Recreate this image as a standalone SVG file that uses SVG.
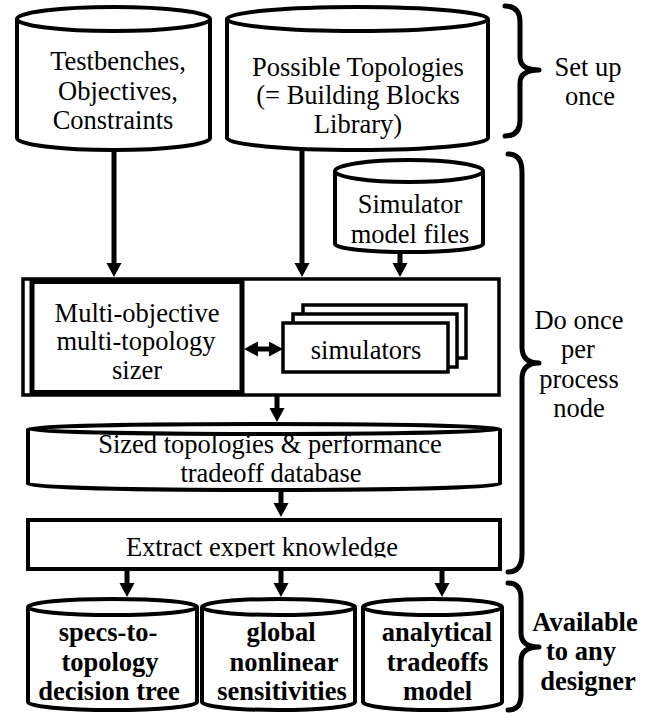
<svg xmlns="http://www.w3.org/2000/svg" width="654" height="713" viewBox="0 0 654 713">
<style>
.s{fill:#fff;stroke:#000;stroke-width:4}
.t{font-family:"Liberation Serif","Times New Roman",serif;font-size:26.5px;text-anchor:middle;fill:#000}
.b{font-weight:bold}
.a{stroke:#000;stroke-width:5;fill:none;marker-end:url(#ah)}
.br{stroke:#000;stroke-width:5;fill:none;stroke-linecap:round;stroke-linejoin:round}
</style>
<defs>
<marker id="ah" markerWidth="16" markerHeight="16" refX="4" refY="7.5" orient="auto-start-reverse" markerUnits="userSpaceOnUse"><path d="M0,0 L14,7.5 L0,15 z" fill="#000"/></marker>
<clipPath id="cx"><rect x="28" y="520" width="472" height="37.5"/></clipPath>
</defs>
<rect width="654" height="713" fill="#fff"/>

<g id="testbenches">
<path class="s" d="M17,19 L17,138 A96.5,12 0 0 0 210,138 L210,19"/>
<ellipse class="s" cx="113.5" cy="19" rx="96.5" ry="12"/>
<text class="t" x="118" y="70">Testbenches,</text>
<text class="t" x="118" y="99.5">Objectives,</text>
<text class="t" x="113" y="129">Constraints</text>
</g>

<g id="topologies">
<path class="s" d="M227,19 L227,138 A130.5,12 0 0 0 488,138 L488,19"/>
<ellipse class="s" cx="357.5" cy="19" rx="130.5" ry="12"/>
<text class="t" x="358" y="75.5">Possible Topologies</text>
<text class="t" x="358" y="104">(= Building Blocks</text>
<text class="t" x="358" y="132.5">Library)</text>
</g>

<g id="simmodel">
<path class="s" d="M335,171 L335,244 A74,8 0 0 0 483,244 L483,171"/>
<ellipse class="s" cx="409" cy="171" rx="74" ry="11"/>
<text class="t" x="410" y="213">Simulator</text>
<text class="t" x="410" y="242.5">model files</text>
</g>

<g id="sizerframe">
<rect x="23" y="279" width="476" height="116" fill="#fff" stroke="#000" stroke-width="3.5"/>
</g>

<g id="sizer">
<rect x="32" y="281.5" width="210" height="111" fill="#fff" stroke="#000" stroke-width="5"/>
<text class="t" x="137" y="321.5">Multi-objective</text>
<text class="t" x="136" y="350">multi-topology</text>
<text class="t" x="137" y="378.5">sizer</text>
</g>

<g id="simulators">
<rect x="303" y="305" width="163" height="53" fill="#fff" stroke="#000" stroke-width="3.5"/>
<rect x="293" y="314" width="164" height="53" fill="#fff" stroke="#000" stroke-width="3.5"/>
<rect x="283" y="323" width="165" height="49" fill="#fff" stroke="#000" stroke-width="3.5"/>
<text class="t" x="366" y="359">simulators</text>
</g>

<g id="database">
<path class="s" d="M28,429 L28,484 A236,6 0 0 0 500,484 L500,429"/>
<ellipse class="s" cx="264" cy="429" rx="236" ry="5"/>
<text class="t" x="270" y="453">Sized topologies &amp; performance</text>
<text class="t" x="271" y="482">tradeoff database</text>
</g>

<g id="extract">
<rect class="s" x="28" y="520" width="472" height="49"/>
<text class="t" x="262" y="556" clip-path="url(#cx)">Extract expert knowledge</text>
</g>

<g id="tree">
<path class="s" d="M28,607 L28,702 A84.5,8 0 0 0 197,702 L197,607"/>
<ellipse class="s" cx="112.5" cy="607" rx="84.5" ry="8"/>
<text class="t b" x="108" y="641">specs-to-</text>
<text class="t b" x="110" y="670.5">topology</text>
<text class="t b" x="109" y="700">decision tree</text>
</g>

<g id="sens">
<path class="s" d="M202,607 L202,702 A76.5,8 0 0 0 355,702 L355,607"/>
<ellipse class="s" cx="278.5" cy="607" rx="76.5" ry="8"/>
<text class="t b" x="281" y="641">global</text>
<text class="t b" x="284" y="670.5">nonlinear</text>
<text class="t b" x="282" y="700">sensitivities</text>
</g>

<g id="tradeoffs">
<path class="s" d="M363,607 L363,702 A69.5,8 0 0 0 502,702 L502,607"/>
<ellipse class="s" cx="432.5" cy="607" rx="69.5" ry="8"/>
<text class="t b" x="437" y="641">analytical</text>
<text class="t b" x="437.5" y="670.5">tradeoffs</text>
<text class="t b" x="437.5" y="700">model</text>
</g>

<g id="connectors">
<line class="a" x1="114" y1="150" x2="114" y2="267"/>
<line class="a" x1="302" y1="150" x2="302" y2="267"/>
<line class="a" x1="400" y1="252" x2="400" y2="267"/>
<line class="a" x1="254" y1="349" x2="273" y2="349" style="marker-start:url(#ah)"/>
<line class="a" x1="277" y1="395" x2="277" y2="412"/>
<line class="a" x1="281" y1="490" x2="281" y2="507"/>
<line class="a" x1="127" y1="569" x2="127" y2="587"/>
<line class="a" x1="281" y1="569" x2="281" y2="587"/>
<line class="a" x1="442" y1="569" x2="442" y2="587"/>
</g>

<g id="brace-setup">
<path class="br" d="M505,6 Q520,6 520,22 L520,57 Q520,70 539,70 Q520,70 520,83 L520,120 Q520,136 505,136"/>
<text class="t" x="588" y="76">Set up</text>
<text class="t" x="590" y="105">once</text>
</g>

<g id="brace-process">
<path class="br" d="M508,154 Q522,154 522,172 L522,347 Q522,363 539,363 Q522,363 522,379 L522,554 Q522,572 508,572"/>
<text class="t" x="579" y="329">Do once</text>
<text class="t" x="578" y="358">per</text>
<text class="t" x="579" y="387.5">process</text>
<text class="t" x="579" y="417">node</text>
</g>

<g id="brace-designer">
<path class="br" d="M508,583 Q521,583 521,598 L521,633 Q521,647 539,647 Q521,647 521,661 L521,695 Q521,710 508,710"/>
<text class="t b" x="585" y="631">Available</text>
<text class="t b" x="581" y="660">to any</text>
<text class="t b" x="588" y="690">designer</text>
</g>
</svg>
